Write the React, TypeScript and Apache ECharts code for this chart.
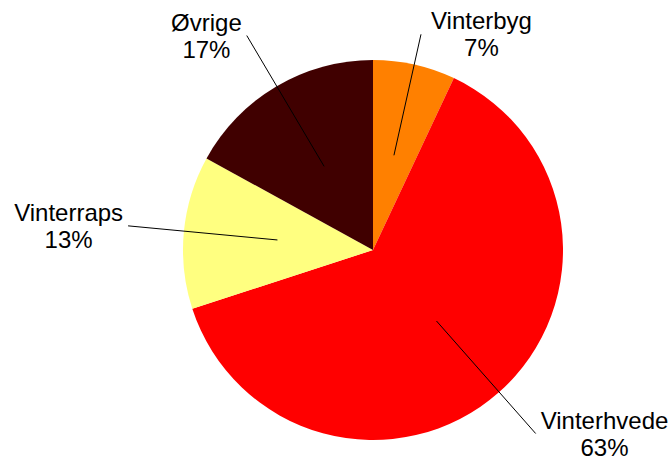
import React, { useEffect, useRef } from "react";
import * as echarts from "echarts";

const categories = ["Vinterbyg", "Vinterhvede", "Vinterraps", "Øvrige"];
const values = [7, 63, 13, 17];
const colors = ["#FF8000", "#FF0000", "#FFFF80", "#400000"];
const lineLengths = [124, 150, 150, 152];
const labelGaps = [10, 5, 5, 5];

export default function App() {
  const ref = useRef<HTMLDivElement>(null);
  useEffect(() => {
    if (!ref.current) return;
    const chart = echarts.init(ref.current, undefined, { renderer: "svg" });
    const base = categories.map((name, i) => ({ name, value: values[i] }));
    chart.setOption({
      animation: false,
      backgroundColor: "#ffffff",
      series: [
        {
          type: "pie",
          center: [373, 250],
          radius: [0, 190],
          startAngle: 90,
          clockwise: true,
          silent: true,
          label: { show: false },
          labelLine: { show: false },
          itemStyle: { borderWidth: 0 },
          data: base.map((d, i) => ({ ...d, itemStyle: { color: colors[i] } })),
        },
        {
          type: "pie",
          center: [373, 249],
          radius: [0, 96],
          startAngle: 90,
          clockwise: true,
          silent: true,
          avoidLabelOverlap: false,
          z: 5,
          itemStyle: { color: "rgba(0,0,0,0)", borderWidth: 0 },
          label: {
            show: true,
            position: "outside",
            distanceToLabelLine: 5,
            formatter: (p: any) => `{a|${p.name}}\n{a|${Math.round(p.percent)}%}`,
            rich: {
              a: {
                fontFamily: "Liberation Sans, Arial, sans-serif",
                fontSize: 24,
                lineHeight: 27,
                color: "#000000",
                align: "center",
              },
            },
          },
          labelLine: {
            show: true,
            length2: 0,
            minTurnAngle: 0,
            maxSurfaceAngle: 180,
            lineStyle: { color: "#000000", width: 1 },
          },
          data: base.map((d, i) => ({
            ...d,
            label: { distanceToLabelLine: labelGaps[i] },
            labelLine: { length: lineLengths[i], length2: 0 },
          })),
        },
      ],
    });
    return () => chart.dispose();
  }, []);
  return (
    <div
      ref={ref}
      style={{ position: "fixed", left: 0, top: 0, width: 670, height: 460 }}
    />
  );
}
